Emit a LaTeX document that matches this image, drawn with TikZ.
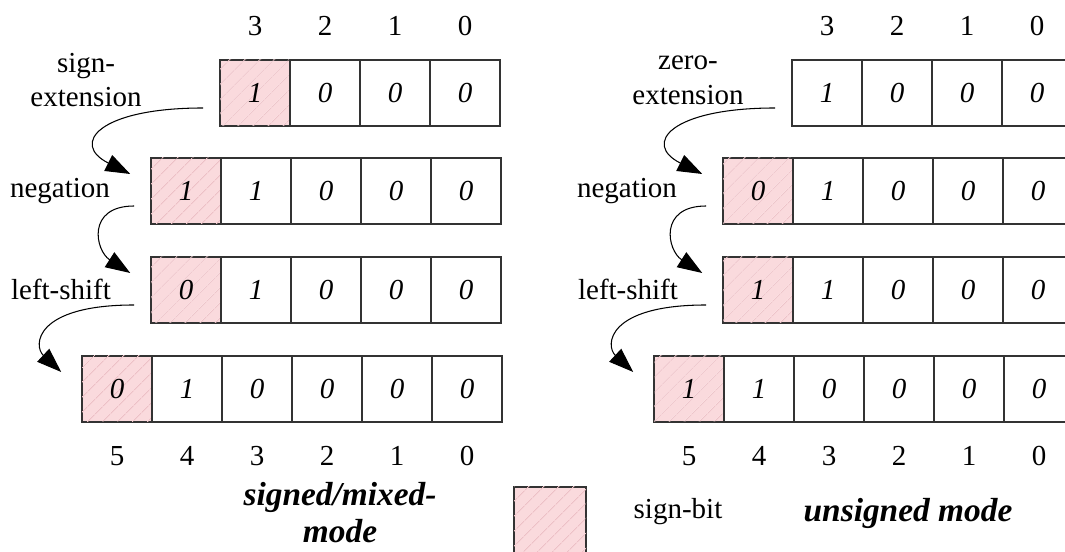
\documentclass[tikz,border=0pt]{standalone}
\usepackage{fontspec}
\setmainfont{Liberation Serif}
\usetikzlibrary{arrows.meta,patterns.meta}
\definecolor{signpink}{RGB}{250,218,221}
\definecolor{hatchpink}{RGB}{236,192,198}
\tikzset{
  bit/.style={
    draw=black!80, line width=0.9pt, minimum width=1.4cm, minimum height=1.32cm,
    inner sep=0mm, font=\fontsize{16.5}{19.8}\selectfont\itshape
  },
  sbit/.style={
    bit, fill=signpink,
    postaction={pattern={Lines[angle=45,distance=6.5pt,line width=0.5pt]}, pattern color=hatchpink}
  },
  idx/.style={font=\fontsize{16.5}{19.8}\selectfont, inner sep=0mm},
  lbl/.style={font=\fontsize{16.5}{19.8}\selectfont, align=center, inner sep=0mm},
  modelbl/.style={font=\fontsize{19}{21}\selectfont\bfseries\itshape, align=center, inner sep=0mm},
  flow/.style={-{Triangle[length=14pt,width=10pt]}, line width=0.6pt}
}
% one register: name, x and y of the first cell, list of style/bit
\newcommand{\bitrow}[4]{
  \foreach \s/\b [count=\i] in {#4}
    \node[\s] (#1-\i) at (#2+1.4*\i-1.4, #3) {\b};
}

\begin{document}
\begin{tikzpicture}
   \useasboundingbox (0,0) rectangle (21.3,11.04);

   % signed / mixed mode
   \bitrow{s1}{5.1}{9.18}{sbit/1,bit/0,bit/0,bit/0}
   \bitrow{s2}{3.72}{7.22}{sbit/1,bit/1,bit/0,bit/0,bit/0}
   \bitrow{s3}{3.72}{5.24}{sbit/0,bit/1,bit/0,bit/0,bit/0}
   \bitrow{s4}{2.34}{3.26}{sbit/0,bit/1,bit/0,bit/0,bit/0,bit/0}

   % unsigned mode
   \bitrow{u1}{16.54}{9.18}{bit/1,bit/0,bit/0,bit/0}
   \bitrow{u2}{15.16}{7.22}{sbit/0,bit/1,bit/0,bit/0,bit/0}
   \bitrow{u3}{15.16}{5.24}{sbit/1,bit/1,bit/0,bit/0,bit/0}
   \bitrow{u4}{13.78}{3.26}{sbit/1,bit/1,bit/0,bit/0,bit/0,bit/0}

   % bit positions
   \foreach \n [count=\i] in {3,2,1,0} {
     \node[idx] (stop-\i) at ([yshift=0.67cm]s1-\i.north) {\n};
     \node[idx] (utop-\i) at ([yshift=0.67cm]u1-\i.north) {\n};
   }
   \foreach \n [count=\i] in {5,4,3,2,1,0} {
     \node[idx] (sbot-\i) at ([yshift=-0.67cm]s4-\i.south) {\n};
     \node[idx] (ubot-\i) at ([yshift=-0.67cm]u4-\i.south) {\n};
   }

   % step names
   \node[lbl] (sext) at (1.72, 9.44) {sign-\\extension};
   \node[lbl] (sneg) at (1.2, 7.22) {negation};
   \node[lbl] (sshl) at (1.22, 5.26) {left-shift};
   \node[lbl] (uext) at (13.76, 9.44) {zero-\\extension};
   \node[lbl] (uneg) at (12.54, 7.22) {negation};
   \node[lbl] (ushl) at (12.56, 5.26) {left-shift};

   % steps
   \draw[flow] ([shift={(-0.32,-0.3)}]s1-1.west) .. controls +(-2.1,0) and +(-1.2,0.6) .. ([shift={(-0.4,0.34)}]s2-1.west);
   \draw[flow] ([shift={(-0.32,-0.3)}]s2-1.west) .. controls +(-0.96,0) and +(-0.7,0.45) .. ([shift={(-0.4,0.34)}]s3-1.west);
   \draw[flow] ([shift={(-0.32,-0.3)}]s3-1.west) .. controls +(-2.0,0) and +(-0.56,0.52) .. ([shift={(-0.4,0.34)}]s4-1.west);
   \draw[flow] ([shift={(-0.32,-0.3)}]u1-1.west) .. controls +(-2.1,0) and +(-1.2,0.6) .. ([shift={(-0.4,0.34)}]u2-1.west);
   \draw[flow] ([shift={(-0.32,-0.3)}]u2-1.west) .. controls +(-0.96,0) and +(-0.7,0.45) .. ([shift={(-0.4,0.34)}]u3-1.west);
   \draw[flow] ([shift={(-0.32,-0.3)}]u3-1.west) .. controls +(-2.0,0) and +(-0.56,0.52) .. ([shift={(-0.4,0.34)}]u4-1.west);

   % legend
   \node[modelbl] (smode) at (6.8, 0.78) {signed/mixed-\\mode};
   \node[sbit, minimum width=1.44cm, minimum height=1.4cm] (key) at (11.0, 0.6) {};
   \node[lbl] (keytxt) at (13.56, 0.8) {sign-bit};
   \node[modelbl] (umode) at (18.16, 0.78) {unsigned mode};
\end{tikzpicture}
\end{document}
